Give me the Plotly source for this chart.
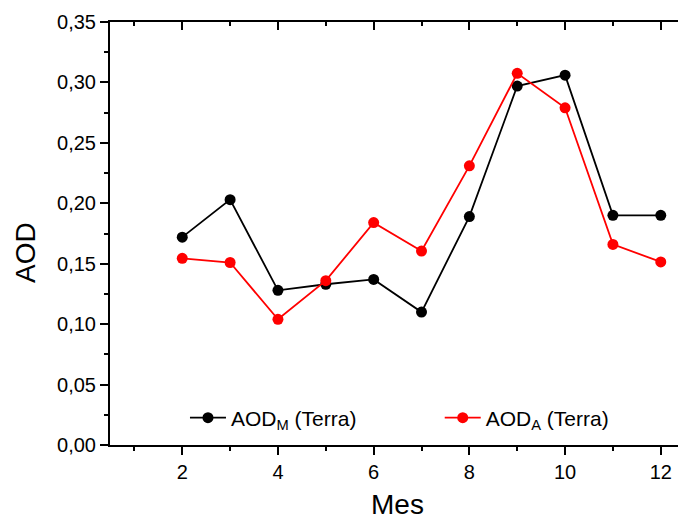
import plotly.graph_objects as go

meses = [2, 3, 4, 5, 6, 7, 8, 9, 10, 11, 12]
aod_m = [0.172, 0.203, 0.128, 0.133, 0.137, 0.110, 0.189, 0.297, 0.306, 0.190, 0.190]
aod_a = [0.1545, 0.151, 0.104, 0.136, 0.184, 0.1605, 0.231, 0.3075, 0.279, 0.166, 0.1515]

FONT = "Liberation Sans, Arial, sans-serif"

fig = go.Figure()
fig.add_trace(go.Scatter(x=meses, y=aod_m, mode="lines+markers",
                         name="AOD<sub>M</sub> (Terra)", legend="legend",
                         line=dict(color="#000000", width=1.8),
                         marker=dict(color="#000000", size=11)))
fig.add_trace(go.Scatter(x=meses, y=aod_a, mode="lines+markers",
                         name="AOD<sub>A</sub> (Terra)", legend="legend2",
                         line=dict(color="#ff0000", width=1.8),
                         marker=dict(color="#ff0000", size=11)))
# helper (empty) trace so the top mirrored axis is drawn
fig.add_trace(go.Scatter(x=[], y=[], xaxis="x2", showlegend=False, hoverinfo="skip"))

xr = [0.49, 12.36]
yr = [0, 0.35]

legend_common = dict(orientation="h", xanchor="left", yanchor="middle",
                     bgcolor="rgba(0,0,0,0)", font=dict(size=21), itemwidth=36)

fig.update_layout(
    width=678, height=522,
    margin=dict(l=110, r=0, t=22, b=77),
    paper_bgcolor="white", plot_bgcolor="white",
    separators=", ",
    font=dict(family=FONT, size=20, color="black"),
    xaxis=dict(range=xr, tick0=0, dtick=2, ticks="outside", ticklen=8, tickwidth=1.5,
               tickcolor="black", showline=True, linecolor="black", linewidth=2,
               showgrid=False, zeroline=False,
               minor=dict(dtick=1, tick0=0, ticks="outside", ticklen=4, tickwidth=1.5,
                          tickcolor="black", showgrid=False),
               tickfont=dict(size=20)),
    xaxis2=dict(range=xr, overlaying="x", side="top", tick0=0, dtick=2, ticks="inside",
                ticklen=8, tickwidth=1.5, tickcolor="black", showline=True,
                linecolor="black", linewidth=2, showgrid=False, zeroline=False,
                showticklabels=False,
                minor=dict(dtick=1, tick0=0, ticks="inside", ticklen=4, tickwidth=1.5,
                           tickcolor="black", showgrid=False)),
    yaxis=dict(range=yr, tick0=0, dtick=0.05, tickformat=".2f", ticks="outside",
               ticklen=8, tickwidth=1.5, tickcolor="black", showline=True,
               linecolor="black", linewidth=2, showgrid=False, zeroline=False,
               minor=dict(dtick=0.025, tick0=0, ticks="outside", ticklen=4, tickwidth=1.5,
                          tickcolor="black", showgrid=False),
               tickfont=dict(size=20)),
    legend=dict(x=0.1320, y=0.0638, **legend_common),
    legend2=dict(x=0.5805, y=0.0638, **legend_common),
    showlegend=True,
    annotations=[
        dict(text="AOD", xref="paper", yref="paper", x=-0.1496, y=0.4539,
             xanchor="center", yanchor="middle", textangle=-90, showarrow=False,
             font=dict(size=28)),
        dict(text="Mes", xref="paper", yref="paper", x=0.507, y=-0.1418,
             xanchor="center", yanchor="middle", showarrow=False,
             font=dict(size=28)),
    ],
)

fig.write_html("out.html")
